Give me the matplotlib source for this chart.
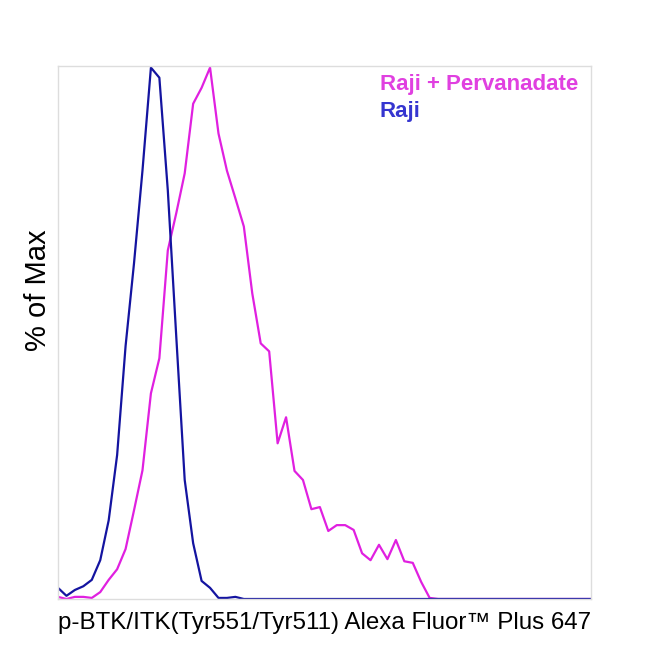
import matplotlib
matplotlib.use("Agg")
import matplotlib.pyplot as plt

raji = [2.1, 0.6, 1.7, 2.4, 3.6, 7.3, 14.8, 27.1, 47.6, 63.2, 80.6, 100, 98.1, 76.9, 49.4,
        22.4, 10.5, 3.4, 2.1, 0.2, 0.2, 0.4, 0] + [0] * 41
raji_perv = [0.4, 0, 0.4, 0.4, 0.2, 1.3, 3.6, 5.6, 9.4, 16.7, 24.2, 38.7, 45.3, 65.6, 72.6,
             80.1, 93.2, 96.2, 100, 87.6, 80.6, 75.4, 70.1, 57.5, 48.1, 46.6, 29.3, 34.2,
             24.1, 22.4, 16.9, 17.3, 12.8, 13.9, 13.9, 13.0, 8.6, 7.3, 10.2, 7.5, 11.1,
             7.1, 6.8, 3.2, 0.2] + [0] * 19
bins = list(range(len(raji)))

labels = ["Raji + Pervanadate", "Raji"]
xlabel = "p-BTK/ITK(Tyr551/Tyr511) Alexa Fluor™ Plus 647"
ylabel = "% of Max"

plt.rcParams['font.family'] = ['Liberation Sans', 'DejaVu Sans']
fig = plt.figure(figsize=(6.5, 6.5), dpi=100)
ax = fig.add_axes([58/650, 1 - 599/650, 533/650, 533/650])
ax.plot(bins, raji_perv, color="#E020E0", lw=1.6)
ax.plot(bins, raji, color="#1414A0", lw=1.6)
ax.set_xlim(0, 63.1)
ax.set_ylim(0, 100.3)
ax.set_xticks([])
ax.set_yticks([])
for s in ax.spines.values():
    s.set_color("#dddddd")
    s.set_linewidth(1)
ax.set_xlabel(xlabel, fontsize=17.4, labelpad=9)
ax.set_ylabel(ylabel, fontsize=21, labelpad=8)
ax.yaxis.set_label_coords(-0.012, 0.58)
ax.text(0.604, 0.985, labels[0], transform=ax.transAxes, ha="left", va="top",
        color="#E040E0", fontsize=16, fontweight="bold")
ax.text(0.604, 0.935, labels[1], transform=ax.transAxes, ha="left", va="top",
        color="#3535D0", fontsize=16, fontweight="bold")
fig.savefig("out.png", dpi=100)
